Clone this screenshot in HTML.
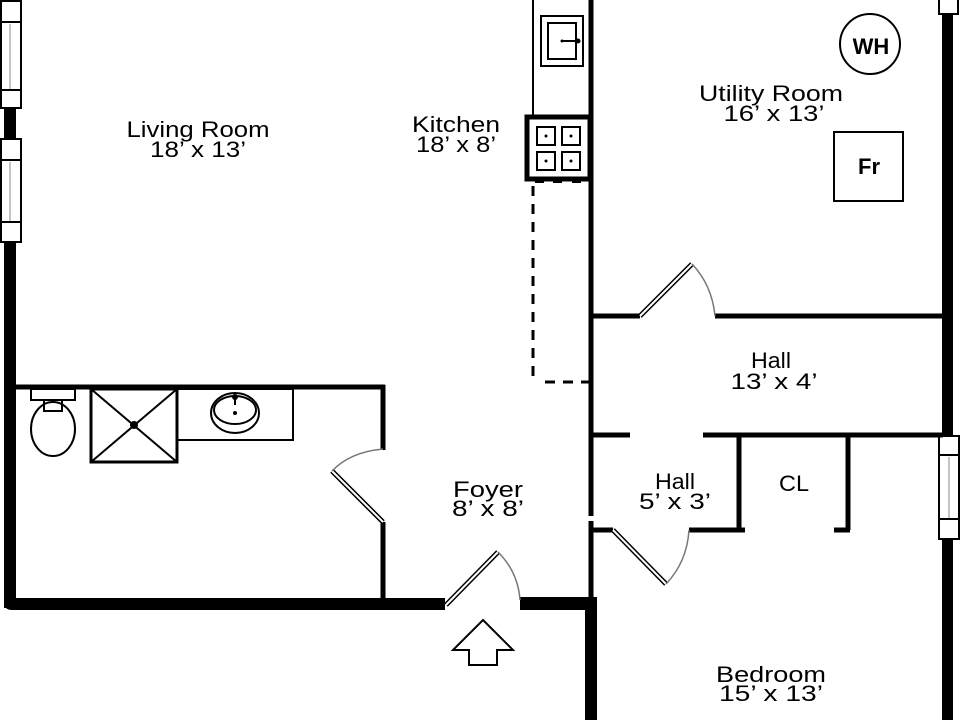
<!DOCTYPE html>
<html><head><meta charset="utf-8"><style>
html,body{margin:0;padding:0;background:#fff;width:960px;height:720px;overflow:hidden}
svg{display:block}
text{font-family:"Liberation Sans",sans-serif;font-size:22px;fill:#000;text-anchor:middle}
</style></head><body>
<svg width="960" height="720" viewBox="0 0 960 720" xmlns="http://www.w3.org/2000/svg">
<g fill="#000">
<!-- left exterior wall -->
<rect x="4" y="108" width="12" height="32"/>
<rect x="4" y="242" width="12" height="366" rx="0"/>
<path d="M4 598 H445 V610 H12 Q4 610 4 602 Z"/>
<rect x="520" y="597" width="77" height="13"/>
<rect x="585" y="597" width="12" height="123"/>
<!-- right exterior wall -->
<rect x="942" y="14" width="11" height="422"/>
<rect x="942" y="539" width="11" height="181"/>
</g>
<!-- windows -->
<g fill="#fff" stroke="#000" stroke-width="2">
<rect x="1" y="1" width="20" height="107"/>
<rect x="1" y="139" width="20" height="103"/>
<rect x="939" y="-2" width="19" height="16"/>
<rect x="939" y="436" width="20" height="103"/>
</g>
<g stroke="#000" stroke-width="2">
<line x1="1" y1="22" x2="21" y2="22"/><line x1="1" y1="90" x2="21" y2="90"/>
<line x1="1" y1="160" x2="21" y2="160"/><line x1="1" y1="222" x2="21" y2="222"/>
<line x1="939" y1="455" x2="959" y2="455"/><line x1="939" y1="519" x2="959" y2="519"/>
</g>
<g stroke="#888" stroke-width="1">
<line x1="10" y1="24" x2="10" y2="89"/><line x1="10" y1="162" x2="10" y2="221"/>
<line x1="949" y1="457" x2="949" y2="518"/>
</g>
<!-- interior walls -->
<g stroke="#000" stroke-width="5" fill="none">
<line x1="16" y1="387" x2="385" y2="387"/>
<line x1="383" y1="385" x2="383" y2="450"/>
<line x1="383" y1="522" x2="383" y2="598"/>
<line x1="591" y1="0" x2="591" y2="516"/>
<line x1="591" y1="521" x2="591" y2="598"/>
<line x1="591" y1="316" x2="640" y2="316"/>
<line x1="715" y1="316" x2="943" y2="316"/>
<line x1="591" y1="435" x2="630" y2="435"/>
<line x1="703" y1="435" x2="943" y2="435"/>
<line x1="739" y1="435" x2="739" y2="530"/>
<line x1="848" y1="435" x2="848" y2="530"/>
<line x1="591" y1="530" x2="613" y2="530"/>
<line x1="689" y1="530" x2="745" y2="530"/>
<line x1="834" y1="530" x2="850" y2="530"/>
</g>
<!-- doors -->
<g fill="none">
<g stroke="#000" stroke-width="5"><line x1="383" y1="522" x2="332" y2="471"/><line x1="640" y1="316" x2="692" y2="264"/><line x1="613" y1="530" x2="666" y2="584"/><line x1="446" y1="605" x2="498" y2="552"/></g>
<g stroke="#fff" stroke-width="2"><line x1="383" y1="522" x2="332" y2="471"/><line x1="640" y1="316" x2="692" y2="264"/><line x1="613" y1="530" x2="666" y2="584"/><line x1="446" y1="605" x2="498" y2="552"/></g>
<g stroke="#777" stroke-width="1.5">
<path d="M332 471 Q350 452 383 449"/>
<path d="M692 264 Q712 285 715 316"/>
<path d="M666 584 Q687 562 689 530"/>
<path d="M498 552 Q518 572 520 600"/>
</g>
</g>
<!-- bathroom fixtures -->
<g fill="none" stroke="#000" stroke-width="2">
<rect x="31" y="389" width="44" height="11"/>
<rect x="44" y="400" width="18" height="11"/>
<ellipse cx="53" cy="429" rx="22" ry="27"/>
<rect x="91" y="389" width="86" height="73" stroke-width="3"/>
<line x1="91" y1="389" x2="177" y2="462"/><line x1="177" y1="389" x2="91" y2="462"/>
<rect x="177" y="389" width="116" height="51"/>
<ellipse cx="235" cy="413" rx="24" ry="20"/>
<ellipse cx="235" cy="410" rx="21" ry="14"/>
<line x1="235" y1="397" x2="235" y2="405"/>
</g>
<circle cx="134" cy="425" r="4"/>
<circle cx="235" cy="413" r="2"/><circle cx="235" cy="397" r="3"/>
<!-- kitchen -->
<g fill="none" stroke="#000" stroke-width="2">
<line x1="533" y1="0" x2="533" y2="115"/>
<rect x="541" y="16" width="42" height="50"/>
<rect x="548" y="23" width="28" height="36"/>
<line x1="562" y1="41" x2="578" y2="41"/>
</g>
<circle cx="562" cy="41" r="1.5"/><circle cx="578" cy="41" r="2.5"/>
<rect x="527" y="117" width="63" height="62" fill="#fff" stroke="#000" stroke-width="5"/>
<g fill="none" stroke="#000" stroke-width="2">
<rect x="537" y="127" width="18" height="18"/><rect x="562" y="127" width="18" height="18"/>
<rect x="537" y="152" width="18" height="18"/><rect x="562" y="152" width="18" height="18"/>
</g>
<circle cx="546" cy="136" r="1.5"/><circle cx="571" cy="136" r="1.5"/><circle cx="546" cy="161" r="1.5"/><circle cx="571" cy="161" r="1.5"/>
<g stroke="#000" stroke-width="3" stroke-dasharray="10 8" fill="none">
<line x1="533" y1="186" x2="533" y2="382"/>
<line x1="545" y1="382" x2="589" y2="382"/>
</g>
<g fill="#000"><rect x="535" y="180" width="9" height="3"/><rect x="553" y="180" width="9" height="3"/><rect x="572" y="180" width="9" height="3"/></g>
<!-- utility -->
<circle cx="870" cy="44" r="30" fill="none" stroke="#000" stroke-width="2"/>
<rect x="834" y="132" width="69" height="69" fill="none" stroke="#000" stroke-width="2"/>
<text x="871" y="54" style="font-size:22px;font-weight:bold">WH</text>
<text x="869" y="174" style="font-size:22px;font-weight:bold">Fr</text>
<!-- entry arrow -->
<polygon points="483,620 513,650 497,650 497,665 469,665 469,650 453,650" fill="#fff" stroke="#000" stroke-width="2"/>
<!-- labels -->
<text x="198" y="137" textLength="143" lengthAdjust="spacingAndGlyphs">Living Room</text>
<text x="198" y="157" textLength="96" lengthAdjust="spacingAndGlyphs">18’ x 13’</text>
<text x="456" y="132" textLength="88" lengthAdjust="spacingAndGlyphs">Kitchen</text>
<text x="456" y="152" textLength="80" lengthAdjust="spacingAndGlyphs">18’ x 8’</text>
<text x="771" y="101" textLength="144" lengthAdjust="spacingAndGlyphs">Utility Room</text>
<text x="774" y="121" textLength="101" lengthAdjust="spacingAndGlyphs">16’ x 13’</text>
<text x="771" y="368" textLength="40" lengthAdjust="spacingAndGlyphs">Hall</text>
<text x="774" y="389" textLength="87" lengthAdjust="spacingAndGlyphs">13’ x 4’</text>
<text x="675" y="489" textLength="40" lengthAdjust="spacingAndGlyphs">Hall</text>
<text x="675" y="509" textLength="72" lengthAdjust="spacingAndGlyphs">5’ x 3’</text>
<text x="794" y="491" textLength="30" lengthAdjust="spacingAndGlyphs">CL</text>
<text x="488" y="497" textLength="70" lengthAdjust="spacingAndGlyphs">Foyer</text>
<text x="488" y="516" textLength="72" lengthAdjust="spacingAndGlyphs">8’ x 8’</text>
<text x="771" y="682" textLength="110" lengthAdjust="spacingAndGlyphs">Bedroom</text>
<text x="771" y="701" textLength="104" lengthAdjust="spacingAndGlyphs">15’ x 13’</text>
</svg>
</body></html>
